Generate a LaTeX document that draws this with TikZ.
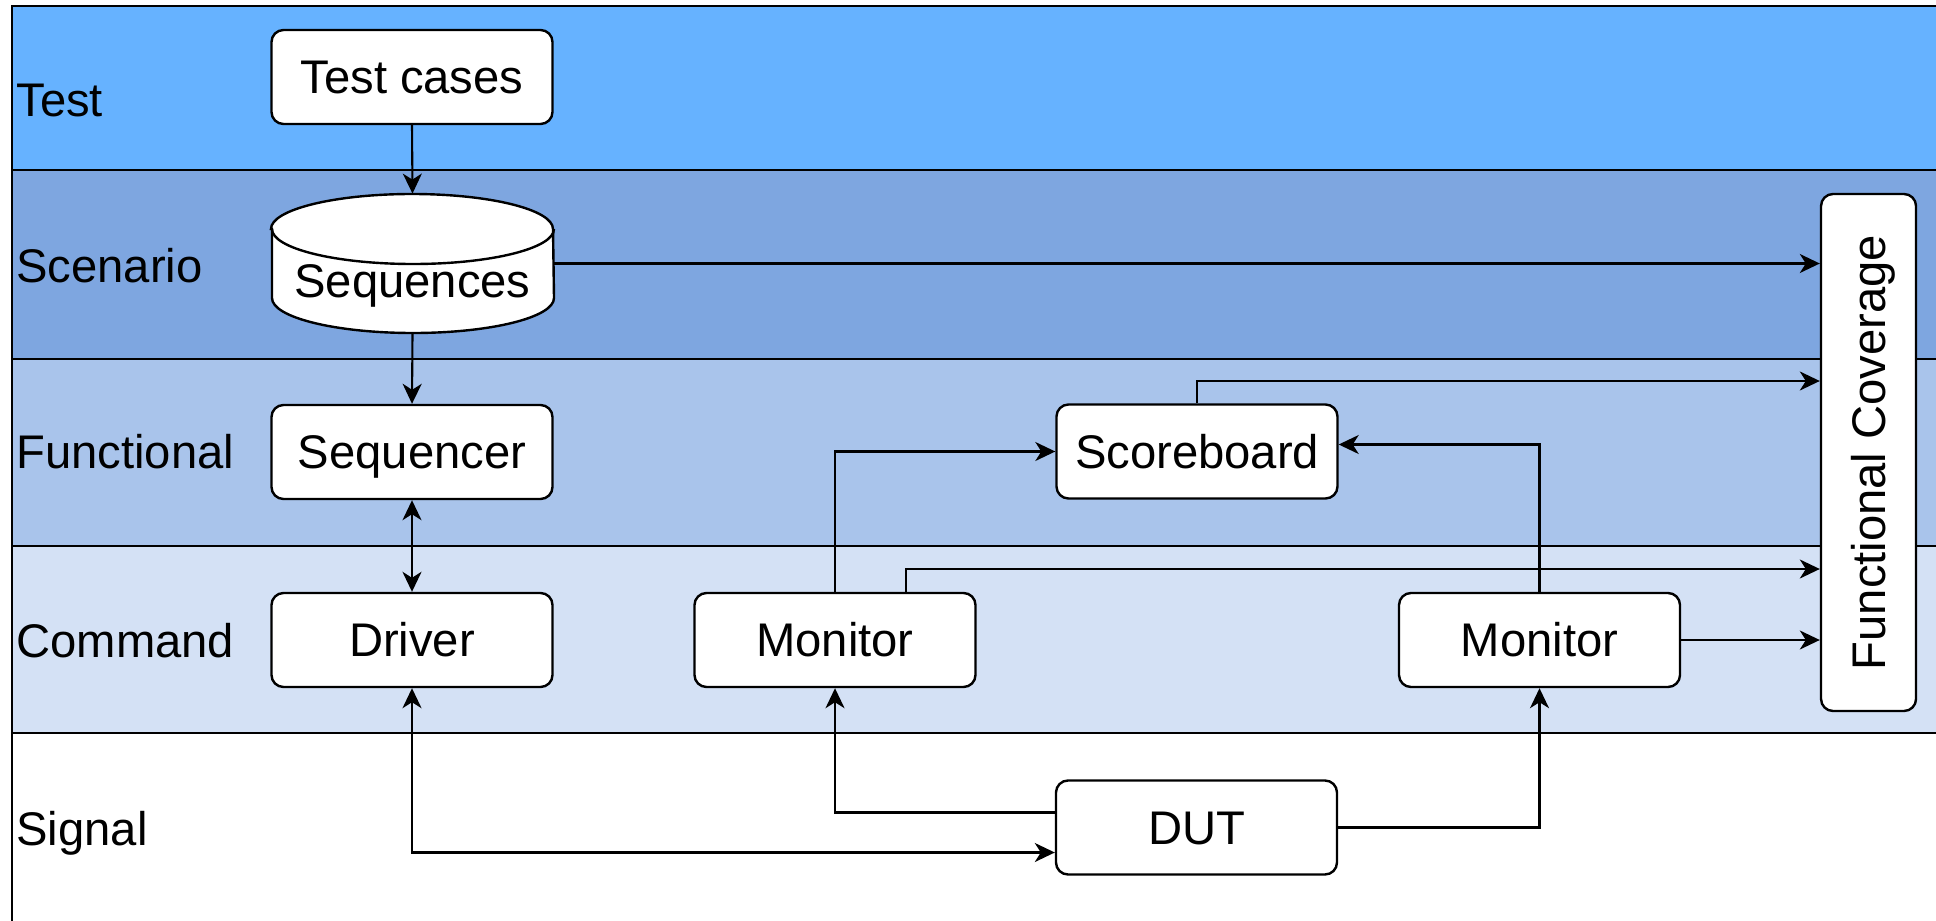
\documentclass[tikz,border=0pt]{standalone}
\usepackage{fontspec}
\setmainfont{Liberation Sans}
\usetikzlibrary{arrows.meta}
\definecolor{laneTest}{HTML}{66B2FF}
\definecolor{laneScen}{HTML}{7EA6E0}
\definecolor{laneFunc}{HTML}{A9C4EB}
\definecolor{laneCmd}{HTML}{D4E1F5}
\begin{document}
\begin{tikzpicture}[x=0.5pt,y=-0.5pt,
  lane/.style={draw=black, line width=1.2pt},
  lanelabel/.style={anchor=base west, inner sep=0pt, font=\fontsize{23.6}{28}\selectfont},
  block/.style={draw=black, fill=white, rounded corners=6pt, line width=1.2pt,
    minimum width=140.5pt, minimum height=47pt, inner sep=0pt,
    text height=16.9pt, text depth=0pt, font=\fontsize{23.6}{28}\selectfont},
  flow/.style={line width=1.05pt, -{Stealth[length=10pt,width=9.5pt,inset=3pt]}},
  flowboth/.style={line width=1.05pt, {Stealth[length=10pt,width=9.5pt,inset=3pt]}-{Stealth[length=10pt,width=9.5pt,inset=3pt]}}
]
\useasboundingbox (0,0) rectangle (1936,920);
\clip (0,0) rectangle (1936,920);

% swim lanes
\draw[lane, fill=laneTest] (12,6) rectangle (1960,170);
\draw[lane, fill=laneScen] (12,170) rectangle (1960,359);
\draw[lane, fill=laneFunc] (12,359) rectangle (1960,546);
\draw[lane, fill=laneCmd]  (12,546) rectangle (1960,733);
\draw[lane, fill=white]    (12,733) rectangle (1960,960);

% lane titles
\node[lanelabel] (lTest) at (16,117) {Test};
\node[lanelabel] (lScen) at (16,282) {Scenario};
\node[lanelabel] (lFunc) at (16,468) {Functional};
\node[lanelabel] (lCmd)  at (16,657) {Command};
\node[lanelabel] (lSig)  at (16,845) {Signal};

% sequence storage drawn as a cylinder
\draw[line width=1.2pt, fill=white] (272,229) -- (272,298)
  arc[start angle=180, end angle=360, x radius=70.5pt, y radius=17.5pt]
  -- (553,229)
  arc[start angle=0, end angle=180, x radius=70.5pt, y radius=17.5pt] -- cycle;
\draw[line width=1.2pt] (272,229)
  arc[start angle=180, end angle=360, x radius=70.5pt, y radius=17.5pt];
\node[minimum width=140.5pt, minimum height=69.5pt, inner sep=0pt] (seq) at (412.5,263.5) {};
\node[inner sep=0pt, text height=16.9pt, text depth=0pt, font=\fontsize{23.6}{28}\selectfont] (seqtext) at (412.5,280.5) {Sequences};

% blocks
\node[block] (tc)   at (412,77)    {Test cases};
\node[block] (sqr)  at (412,452)   {Sequencer};
\node[block] (drv)  at (412,640)   {Driver};
\node[block] (mon1) at (835,640)   {Monitor};
\node[block] (mon2) at (1539.5,640) {Monitor};
\node[block] (scb)  at (1197,451.5) {Scoreboard};
\node[block] (dut)  at (1196.5,827.5) {DUT};
\node[block, rotate=90, minimum width=258.5pt, minimum height=47.5pt] (fc) at (1868.5,452.5) {Functional Coverage};

% connectors
\draw[flow] (tc.south) -- (seq.north);
\draw[flow] (seq.south) -- (sqr.north);
\draw[flowboth] (sqr.south) -- (drv.north);
\draw[flowboth] (drv.south) |- ([yshift=-12.5pt]dut.west);
\draw[flow] ([yshift=7.5pt]dut.west) -| (mon1.south);
\draw[flow] (dut.east) -| (mon2.south);
\draw[flow] (mon1.north) |- (scb.west);
\draw[flow] (mon2.north) |- ([yshift=3.5pt]scb.east);
\draw[flow] (seq.east) -- (fc.north |- seq.east);
\draw[flow] (scb.north) |- ([yshift=35.75pt]fc.north);
\draw[flow] ([xshift=35.5pt]mon1.north) |- ([yshift=-58.25pt]fc.north);
\draw[flow] (mon2.east) -- (fc.north |- mon2.east);
\end{tikzpicture}
\end{document}
